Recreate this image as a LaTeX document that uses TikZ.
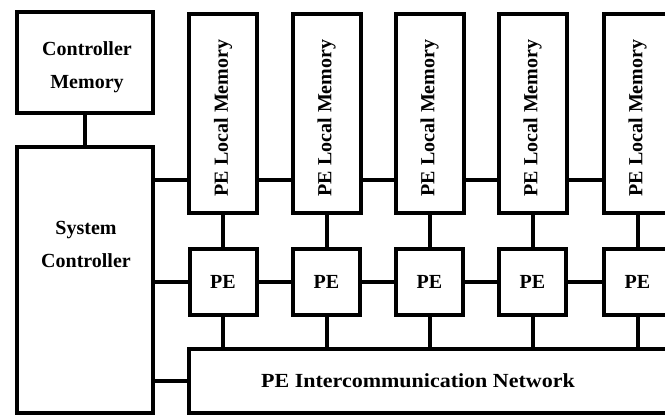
\documentclass[tikz,border=0pt]{standalone}
\usepackage{fontspec}
\setmainfont{Liberation Serif}
\begin{document}
\begin{tikzpicture}[x=1pt,y=-1pt,
  every node/.style={font=\bfseries\fontsize{20}{33}\selectfont},
  unit/.style={draw,line width=4pt,inner sep=0pt,align=center},
  link/.style={line width=4pt}]
\useasboundingbox (0,0) rectangle (665,417);
\clip (0,0) rectangle (665,417);
% controller side
\node[unit,minimum width=136,minimum height=101] (cm) at (85,62.5) {};
\node[align=center] (cmlabel) at (87,67) {Controller\\Memory};
\node[unit,minimum width=136,minimum height=266] (sc) at (85,280) {};
\node[align=center] (sclabel) at (86,244) {System\\Controller};
% local memories, processing elements
\foreach \i/\x in {1/223,2/326.5,3/429.5,4/532.5,5/637.5}{
  \node[unit,minimum width=68,minimum height=199] (m\i) at (\x,113.5) {};
  \node (ml\i) at (\x,118) {\rotatebox{90}{PE Local Memory}};
  \node[unit,minimum width=67,minimum height=66] (pe\i) at (\x,282) {PE};
}
% interconnection network
\node[unit,minimum width=540,minimum height=64,anchor=west] (net) at (187,381) {};
\node (netlabel) at (418,381) {\scalebox{1.1}[1]{PE Intercommunication Network}};
% memory bus
\coordinate (bus) at (0,180);
\draw[link] (cm.south) -- (sc.north);
\draw[link] (sc.east |- bus) -- (m1.west |- bus);
\foreach \a/\b in {1/2,2/3,3/4,4/5}{
  \draw[link] (m\a.east |- bus) -- (m\b.west |- bus);
  \draw[link] (pe\a.east) -- (pe\b.west);
}
\draw[link] (sc.east |- pe1) -- (pe1.west);
\draw[link] (sc.east |- net) -- (net.west);
\foreach \i in {1,...,5}{
  \draw[link] (m\i.south) -- (pe\i.north);
  \draw[link] (pe\i.south) -- (pe\i.south |- net.north);
}
\end{tikzpicture}
\end{document}
